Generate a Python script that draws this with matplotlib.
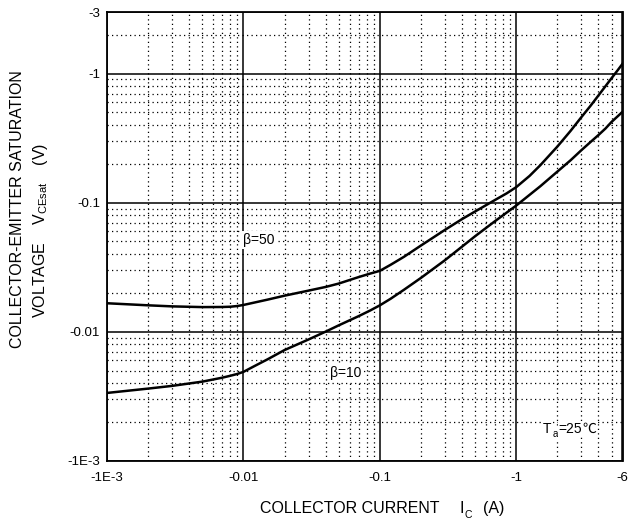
import matplotlib
matplotlib.use("Agg")
import matplotlib.pyplot as plt
from matplotlib.ticker import LogLocator, NullFormatter
from matplotlib.transforms import IdentityTransform

plt.rcParams['font.family'] = ['Liberation Sans', 'DejaVu Sans']
plt.rcParams['mathtext.fontset'] = 'custom'
plt.rcParams['mathtext.rm'] = 'Liberation Sans'
plt.rcParams['mathtext.it'] = 'Liberation Sans:italic'
plt.rcParams['mathtext.bf'] = 'Liberation Sans:bold'

# ---- data ----
ic_b50 = [0.001, 0.002, 0.003, 0.005, 0.007, 0.008, 0.009, 0.01, 0.012, 0.015, 0.02, 0.03, 0.04, 0.05,
          0.07, 0.085, 0.1, 0.12, 0.15, 0.2, 0.3, 0.4, 0.5, 0.7, 0.85, 1.0, 1.25, 1.5, 2.0, 2.5, 3.0,
          3.5, 4.0, 4.5, 5.0, 5.5, 6.0]
vce_b50 = [0.0166, 0.0160, 0.0157, 0.01550, 0.01553, 0.0156, 0.0158, 0.0161, 0.0168, 0.0177, 0.0190,
           0.0208, 0.0222, 0.0236, 0.0265, 0.0282, 0.0296, 0.0330, 0.0380, 0.0465, 0.0615, 0.0745,
           0.0855, 0.105, 0.118, 0.132, 0.161, 0.195, 0.272, 0.360, 0.460, 0.563, 0.677, 0.798,
           0.924, 1.053, 1.19]

ic_b10 = [0.001, 0.002, 0.003, 0.005, 0.007, 0.008, 0.009, 0.01, 0.012, 0.015, 0.02, 0.03, 0.04, 0.05,
          0.07, 0.085, 0.1, 0.12, 0.15, 0.2, 0.3, 0.5, 0.7, 1.0, 1.5, 2.0, 2.5, 3.0, 3.5, 4.0, 4.5,
          5.0, 5.5, 6.0]
vce_b10 = [0.00335, 0.00362, 0.0038, 0.0041, 0.0044, 0.00455, 0.00470, 0.00488, 0.0054, 0.0061, 0.0072,
           0.0087, 0.0100, 0.0112, 0.0132, 0.0146, 0.0160, 0.0180, 0.0211, 0.0261, 0.0358, 0.0550,
           0.0720, 0.095, 0.134, 0.174, 0.213, 0.255, 0.295, 0.334, 0.375, 0.423, 0.464, 0.505]

x_ticks = [1e-3, 1e-2, 1e-1, 1, 6]
x_tick_labels = ["-1E-3", "-0.01", "-0.1", "-1", "-6"]
y_ticks = [1e-3, 1e-2, 1e-1, 1, 3]
y_tick_labels = ["-1E-3", "-0.01", "-0.1", "-1", "-3"]

W, H = 628, 518
fig = plt.figure(figsize=(W / 100, H / 100), dpi=100)
L, R, T, B = 107, 622.5, 12, 460.7
ax = fig.add_axes([L / W, 1 - B / H, (R - L) / W, (B - T) / H])

def px(x, y):
    return x / W, 1 - y / H

ax.plot(ic_b50, vce_b50, color='black', lw=1.8, solid_joinstyle='round')
ax.plot(ic_b10, vce_b10, color='black', lw=1.8, solid_joinstyle='round')

ax.set_xscale('log')
ax.set_yscale('log')
ax.set_xlim(1e-3, 6)
ax.set_ylim(1e-3, 3)

ax.set_xticks(x_ticks, labels=x_tick_labels)
ax.set_yticks(y_ticks, labels=y_tick_labels)
ax.xaxis.set_minor_locator(LogLocator(base=10, subs=range(2, 10), numticks=20))
ax.yaxis.set_minor_locator(LogLocator(base=10, subs=range(2, 10), numticks=20))
ax.xaxis.set_minor_formatter(NullFormatter())
ax.yaxis.set_minor_formatter(NullFormatter())
ax.tick_params(which='both', length=0, labelsize=9.5)
ax.tick_params(axis='x', pad=8)
ax.tick_params(axis='y', pad=5)

ax.grid(which='major', color='black', lw=1.1, ls='-')
ax.grid(which='minor', color='black', lw=0.9, ls=(0, (1, 2.6)))
ax.set_axisbelow(True)
for s in ax.spines.values():
    s.set_linewidth(1.3)
    s.set_color('black')

wb = dict(facecolor='white', edgecolor='none', pad=1.5)
ax.text(0.0129, 0.0514, "β=50", fontsize=10, ha='center', va='center', bbox=wb)
ax.text(0.0558, 0.00476, "β=10", fontsize=10, ha='center', va='center', bbox=wb)

# T_a=25℃ built from pieces
t_x, t_y = 1.56, 0.00164
tT = ax.text(t_x, t_y, "T", fontsize=10, ha='left', va='baseline', bbox=wb)
fig.canvas.draw()
rend = fig.canvas.get_renderer()
base = ax.transData.transform((t_x, t_y))[1]
bbT = tT.get_window_extent(rend)
ta = fig.text(bbT.x1 + 1.5, base - 4, "a", fontsize=7, ha='left', va='baseline',
              transform=IdentityTransform(), bbox=dict(facecolor='white', edgecolor='none', pad=0.5))
bba = ta.get_window_extent(rend)
t25 = fig.text(bba.x1 + 0.5, base, "=25", fontsize=10, ha='left', va='baseline',
               transform=IdentityTransform(), bbox=dict(facecolor='white', edgecolor='none', pad=0.5))
bb25 = t25.get_window_extent(rend)
fig.text(bb25.x1, base, "℃", fontsize=10, ha='left', va='baseline',
         family=['Noto Sans CJK SC', 'DejaVu Sans'], transform=IdentityTransform(),
         bbox=dict(facecolor='white', edgecolor='none', pad=0.5))

# x axis label
fig.text(*px(260, 513), "COLLECTOR CURRENT", fontsize=11.5, ha='left', va='baseline')
fig.text(*px(460, 513), "I", fontsize=11.5, ha='left', va='baseline')
fig.text(*px(464.5, 517.5), "C", fontsize=7.5, ha='left', va='baseline')
fig.text(*px(483, 513), "(A)", fontsize=11.5, ha='left', va='baseline')

# y axis label
fig.text(*px(18, 209), "COLLECTOR-EMITTER SATURATION", fontsize=11.5, rotation=90,
         ha='center', va='center')
fig.text(*px(41, 230), r"VOLTAGE    V$_{\mathregular{CEsat}}$    (V)", fontsize=11.5, rotation=90,
         ha='center', va='center')

fig.savefig("out.png", dpi=100)
